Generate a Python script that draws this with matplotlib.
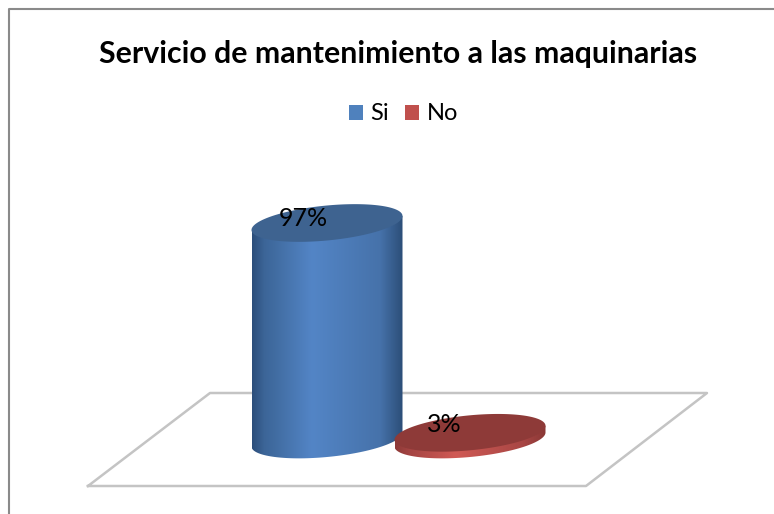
import numpy as np
import matplotlib
matplotlib.use("Agg")
import matplotlib.pyplot as plt
from matplotlib.colors import LinearSegmentedColormap
from matplotlib.patches import Patch, Polygon

categories = ["Si", "No"]
values = [97, 3]
labels = ["97%", "3%"]
title = "Servicio de mantenimiento a las maquinarias"

plt.rcParams["font.family"] = ["Lato", "DejaVu Sans"]

# value/category scale of the fake 3d plot, in pixels
x_first = 327
x_step = 143
y_base = 439.5
px_per_unit = 2.232
rx = 75.5
ry = 17.5
shear = 7

blue_side = LinearSegmentedColormap.from_list("blue_side", [
    (0.0, "#2c4e7b"), (0.08, "#3c6597"), (0.4, "#5385c6"), (0.85, "#4672aa"), (1.0, "#2c4e78")])
red_side = LinearSegmentedColormap.from_list("red_side", [
    (0.0, "#8e3a38"), (0.1, "#a54543"), (0.4, "#d05a55"), (0.85, "#a84644"), (1.0, "#8a3836")])
side_maps = [blue_side, red_side]
top_colors = ["#3e6390", "#8e3a38"]
legend_colors = ["#4f81bd", "#c0504d"]


def ellipse(cx, cy, t):
    return cx + rx * np.cos(t), cy + ry * np.sin(t) - shear * np.cos(t)


def draw_cylinder(ax, i, value):
    cx = x_first + i * x_step
    cy = y_base - value * px_per_unit
    t = np.linspace(0, np.pi, 80)
    xb, yb = ellipse(cx, y_base, t)
    xt, yt = ellipse(cx, cy, np.array([np.pi, 0]))
    pts = np.column_stack([np.r_[xb, xt], np.r_[yb, yt]])
    side = Polygon(pts, closed=True, transform=ax.transData, fc="none", ec="none")
    ax.add_patch(side)
    grad = np.linspace(0, 1, 256).reshape(1, -1)
    im = ax.imshow(grad, cmap=side_maps[i], aspect="auto", interpolation="bilinear",
                   extent=(cx - rx, cx + rx, y_base + 30, cy - 30), zorder=3)
    im.set_clip_path(side)
    t = np.linspace(0, 2 * np.pi, 160)
    xe, ye = ellipse(cx, cy, t)
    ax.fill(xe, ye, color=top_colors[i], lw=0, zorder=4)


fig = plt.figure(figsize=(7.74, 5.14), dpi=100, facecolor="white")
ax = fig.add_axes([0, 0, 1, 1])

# chart frame, only left and top show in the picture
ax.plot([9, 9, 774], [514, 9, 9], color="#8a8a8a", lw=1.5, zorder=1)

# floor
ax.plot([88, 210, 707, 586, 88], [486, 393, 393, 486, 486], color="#c4c4c4", lw=1.8, zorder=1)

for i, v in enumerate(values):
    draw_cylinder(ax, i, v)

ax.text(303, 218, labels[0], fontsize=18, ha="center", va="center", color="black", zorder=5)
ax.text(444.5, 424, labels[1], fontsize=18, ha="center", va="center", color="black", zorder=5)

ax.text(398.5, 54, title, fontsize=21.8, fontweight="bold", ha="center", va="center", color="black")

handles = [Patch(fc=c, ec="none") for c in legend_colors]
ax.legend(handles, categories, ncol=2, loc="center", bbox_to_anchor=(403.5, 114),
          bbox_transform=ax.transData, frameon=False, fontsize=17, handlelength=0.6,
          handleheight=0.6, handletextpad=0.3, columnspacing=0.68, labelcolor="black")

ax.set_xlim(0, 774)
ax.set_ylim(514, 0)
ax.axis("off")

fig.savefig("out.png", dpi=100, facecolor="white")
